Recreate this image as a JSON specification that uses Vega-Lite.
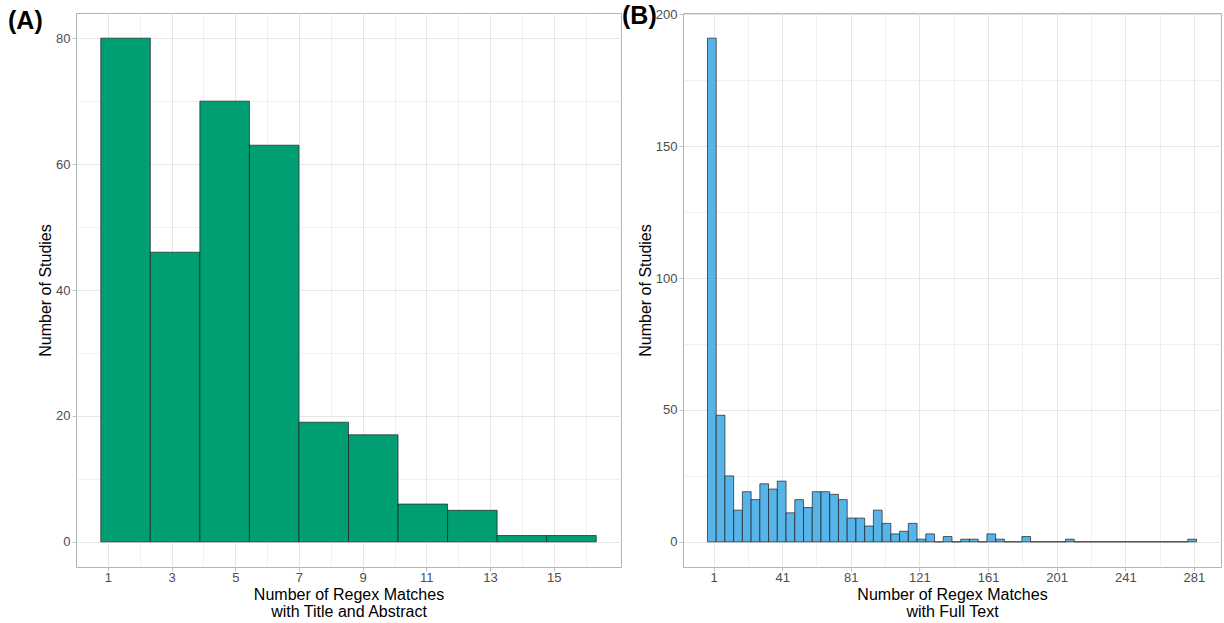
{
  "$schema": "https://vega.github.io/schema/vega-lite/v6.json",
  "autosize": {"type": "pad"},
  "padding": {"left": 7, "top": 3, "right": 0, "bottom": 0},
  "bounds": "flush",
  "spacing": 62,
  "background": "white",
  "config": {
    "font": "Liberation Sans",
    "view": {"stroke": "#b3b3b3", "strokeWidth": 1},
    "axis": {
      "domain": false,
      "gridColor": "#e6e6e6",
      "tickColor": "#b3b3b3",
      "tickSize": 4,
      "tickWidth": 0.8,
      "labelColor": "#4d4d4d",
      "labelFontSize": 13,
      "labelPadding": 0,
      "labelOverlap": false,
      "labelFlush": false,
      "titleFontSize": 16,
      "titleFontWeight": "normal",
      "titleColor": "#000000",
      "titlePadding": 2,
      "titleLineHeight": 17
    },
    "title": {"fontSize": 25, "fontWeight": "bold", "color": "#000000", "anchor": "start", "frame": "group", "offset": 0, "baseline": "alphabetic"}
  },
  "datasets": {
    "a": [
      {"x0": 0.7778, "x1": 2.3333, "n": 80},
      {"x0": 2.3333, "x1": 3.8889, "n": 46},
      {"x0": 3.8889, "x1": 5.4444, "n": 70},
      {"x0": 5.4444, "x1": 7.0, "n": 63},
      {"x0": 7.0, "x1": 8.5556, "n": 19},
      {"x0": 8.5556, "x1": 10.1111, "n": 17},
      {"x0": 10.1111, "x1": 11.6667, "n": 6},
      {"x0": 11.6667, "x1": 13.2222, "n": 5},
      {"x0": 13.2222, "x1": 14.7778, "n": 1},
      {"x0": 14.7778, "x1": 16.3333, "n": 1}
    ],
    "b": [
      {"x0": -2.545, "x1": 2.545, "n": 191},
      {"x0": 2.545, "x1": 7.636, "n": 48},
      {"x0": 7.636, "x1": 12.727, "n": 25},
      {"x0": 12.727, "x1": 17.818, "n": 12},
      {"x0": 17.818, "x1": 22.909, "n": 19},
      {"x0": 22.909, "x1": 28.0, "n": 16},
      {"x0": 28.0, "x1": 33.091, "n": 22},
      {"x0": 33.091, "x1": 38.182, "n": 20},
      {"x0": 38.182, "x1": 43.273, "n": 23},
      {"x0": 43.273, "x1": 48.364, "n": 11},
      {"x0": 48.364, "x1": 53.455, "n": 16},
      {"x0": 53.455, "x1": 58.545, "n": 13},
      {"x0": 58.545, "x1": 63.636, "n": 19},
      {"x0": 63.636, "x1": 68.727, "n": 19},
      {"x0": 68.727, "x1": 73.818, "n": 18},
      {"x0": 73.818, "x1": 78.909, "n": 16},
      {"x0": 78.909, "x1": 84.0, "n": 9},
      {"x0": 84.0, "x1": 89.091, "n": 9},
      {"x0": 89.091, "x1": 94.182, "n": 6},
      {"x0": 94.182, "x1": 99.273, "n": 12},
      {"x0": 99.273, "x1": 104.364, "n": 7},
      {"x0": 104.364, "x1": 109.455, "n": 3},
      {"x0": 109.455, "x1": 114.545, "n": 4},
      {"x0": 114.545, "x1": 119.636, "n": 7},
      {"x0": 119.636, "x1": 124.727, "n": 1},
      {"x0": 124.727, "x1": 129.818, "n": 3},
      {"x0": 129.818, "x1": 134.909, "n": 0},
      {"x0": 134.909, "x1": 140.0, "n": 2},
      {"x0": 140.0, "x1": 145.091, "n": 0},
      {"x0": 145.091, "x1": 150.182, "n": 1},
      {"x0": 150.182, "x1": 155.273, "n": 1},
      {"x0": 155.273, "x1": 160.364, "n": 0},
      {"x0": 160.364, "x1": 165.455, "n": 3},
      {"x0": 165.455, "x1": 170.545, "n": 1},
      {"x0": 170.545, "x1": 175.636, "n": 0},
      {"x0": 175.636, "x1": 180.727, "n": 0},
      {"x0": 180.727, "x1": 185.818, "n": 2},
      {"x0": 185.818, "x1": 190.909, "n": 0},
      {"x0": 190.909, "x1": 196.0, "n": 0},
      {"x0": 196.0, "x1": 201.091, "n": 0},
      {"x0": 201.091, "x1": 206.182, "n": 0},
      {"x0": 206.182, "x1": 211.273, "n": 1},
      {"x0": 211.273, "x1": 216.364, "n": 0},
      {"x0": 216.364, "x1": 221.455, "n": 0},
      {"x0": 221.455, "x1": 226.545, "n": 0},
      {"x0": 226.545, "x1": 231.636, "n": 0},
      {"x0": 231.636, "x1": 236.727, "n": 0},
      {"x0": 236.727, "x1": 241.818, "n": 0},
      {"x0": 241.818, "x1": 246.909, "n": 0},
      {"x0": 246.909, "x1": 252.0, "n": 0},
      {"x0": 252.0, "x1": 257.091, "n": 0},
      {"x0": 257.091, "x1": 262.182, "n": 0},
      {"x0": 262.182, "x1": 267.273, "n": 0},
      {"x0": 267.273, "x1": 272.364, "n": 0},
      {"x0": 272.364, "x1": 277.455, "n": 0},
      {"x0": 277.455, "x1": 282.545, "n": 1}
    ]
  },
  "hconcat": [
    {
      "width": 545,
      "height": 554,
      "title": {"text": "(A)", "dx": -68, "dy": 24.5},
      "data": {"name": "a"},
      "mark": {"type": "rect", "fill": "#009E73", "stroke": "#1f1f1f", "strokeWidth": 0.7},
      "encoding": {
        "x": {
          "field": "x0", "type": "quantitative",
          "scale": {"domain": [0, 17.1111], "nice": false, "zero": false},
          "axis": {
            "values": [1, 2, 3, 4, 5, 6, 7, 8, 9, 10, 11, 12, 13, 14, 15, 16],
            "labelExpr": "datum.value % 2 == 1 ? datum.label : ''",
            "tickOpacity": {"condition": {"test": "datum.value % 2 == 0", "value": 0}, "value": 1},
            "gridWidth": {"condition": {"test": "datum.value % 2 == 0", "value": 0.6}, "value": 1},
            "title": ["Number of Regex Matches", "with Title and Abstract"]
          }
        },
        "x2": {"field": "x1"},
        "y": {
          "field": "n", "type": "quantitative",
          "scale": {"domain": [-4, 84], "nice": false, "zero": false},
          "axis": {
            "values": [0, 10, 20, 30, 40, 50, 60, 70, 80],
            "labelExpr": "datum.value % 20 == 0 ? datum.label : ''",
            "tickOpacity": {"condition": {"test": "datum.value % 20 != 0", "value": 0}, "value": 1},
            "gridWidth": {"condition": {"test": "datum.value % 20 != 0", "value": 0.6}, "value": 1},
            "labelPadding": 2,
            "title": "Number of Studies"
          }
        },
        "y2": {"datum": 0}
      }
    },
    {
      "width": 538,
      "height": 554,
      "title": {"text": "(B)", "dx": -61, "dy": 24.5},
      "data": {"name": "b"},
      "mark": {"type": "rect", "fill": "#56B4E9", "stroke": "#1f1f1f", "strokeWidth": 0.7},
      "encoding": {
        "x": {
          "field": "x0", "type": "quantitative",
          "scale": {"domain": [-16.8, 296.8], "nice": false, "zero": false},
          "axis": {
            "values": [1, 21, 41, 61, 81, 101, 121, 141, 161, 181, 201, 221, 241, 261, 281],
            "labelExpr": "(datum.value - 1) % 40 == 0 ? datum.label : ''",
            "tickOpacity": {"condition": {"test": "(datum.value - 1) % 40 != 0", "value": 0}, "value": 1},
            "gridWidth": {"condition": {"test": "(datum.value - 1) % 40 != 0", "value": 0.6}, "value": 1},
            "title": ["Number of Regex Matches", "with Full Text"]
          }
        },
        "x2": {"field": "x1"},
        "y": {
          "field": "n", "type": "quantitative",
          "scale": {"domain": [-9.55, 200.55], "nice": false, "zero": false},
          "axis": {
            "values": [0, 25, 50, 75, 100, 125, 150, 175, 200],
            "labelExpr": "datum.value % 50 == 0 ? datum.label : ''",
            "tickOpacity": {"condition": {"test": "datum.value % 50 != 0", "value": 0}, "value": 1},
            "gridWidth": {"condition": {"test": "datum.value % 50 != 0", "value": 0.6}, "value": 1},
            "labelPadding": 2,
            "title": "Number of Studies"
          }
        },
        "y2": {"datum": 0}
      }
    }
  ]
}
